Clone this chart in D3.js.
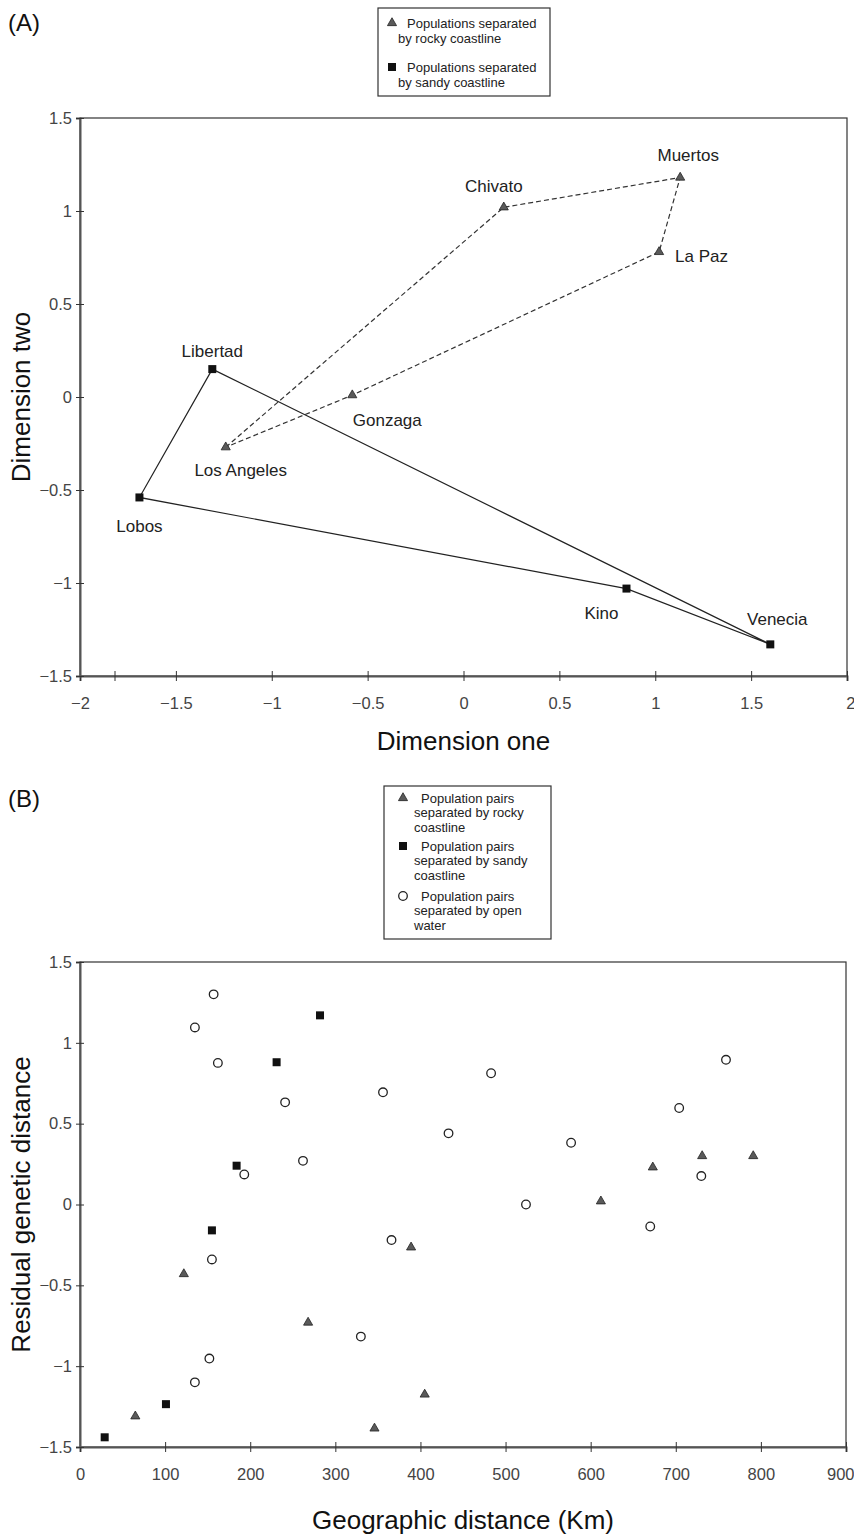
<!DOCTYPE html>
<html>
<head>
<meta charset="utf-8">
<script src="https://cdn.jsdelivr.net/npm/d3@7"></script>
<style>
  body { margin: 0; background: #fff; }
  svg { display: block; font-family: "Liberation Sans", Arial, sans-serif; }
</style>
</head>
<body>
<svg id="fig" width="854" height="1536"></svg>
<script>
// ---- Panel A: population coordinates on the two dimensions
const sites  = ["Muertos", "Chivato", "La Paz", "Gonzaga", "Los Angeles", "Libertad", "Lobos", "Kino", "Venecia"]
const dimOne = [1.13, 0.21, 1.02, -0.58, -1.24, -1.31, -1.69, 0.85, 1.60]
const dimTwo = [1.18, 1.02, 0.78, 0.01, -0.27, 0.15, -0.54, -1.03, -1.33]
const coast  = ["rocky", "rocky", "rocky", "rocky", "rocky", "sandy", "sandy", "sandy", "sandy"]

// order the outlines join the sites
const rockyLoop = ["Los Angeles", "Chivato", "Muertos", "La Paz", "Gonzaga", "Los Angeles"]
const sandyLoop = ["Libertad", "Lobos", "Kino", "Venecia", "Libertad"]

const dimOneTicks = [-2, -1.5, -1, -0.5, 0, 0.5, 1, 1.5, 2]
const dimTwoTicks = [-1.5, -1, -0.5, 0, 0.5, 1, 1.5]
const strayTicks = [-1.82] // unlabelled tick in the original

const legendA = [
  ["rocky", "Populations separated", "by rocky coastline"],
  ["sandy", "Populations separated", "by sandy coastline"]
]

// ---- Panel B: residual genetic distance vs geographic distance
const rockyKm  = [65, 122, 268, 346, 389, 405, 612, 673, 731, 791]
const rockyRes = [-1.31, -0.43, -0.73, -1.385, -0.265, -1.175, 0.02, 0.23, 0.30, 0.30]
const sandyKm  = [29, 101, 155, 184, 231, 282]
const sandyRes = [-1.44, -1.235, -0.16, 0.24, 0.88, 1.17]
const waterKm  = [135, 157, 162, 135, 152, 155, 193, 241, 262, 330, 356, 366, 433, 483, 524, 577, 670, 704, 730, 759]
const waterRes = [1.095, 1.30, 0.876, -1.10, -0.953, -0.34, 0.186, 0.632, 0.27, -0.817, 0.694, -0.22, 0.44, 0.812, 0.0, 0.382, -0.136, 0.597, 0.176, 0.895]

const kmTicks  = [0, 100, 200, 300, 400, 500, 600, 700, 800, 900]
const resTicks = [-1.5, -1, -0.5, 0, 0.5, 1, 1.5]

const legendB = [
  ["rocky", "Population pairs", "separated by rocky", "coastline"],
  ["sandy", "Population pairs", "separated by sandy", "coastline"],
  ["water", "Population pairs", "separated by open", "water"]
]

// label placement around each site [dx, dy, anchor]
const labelOffset = {
  "Muertos":     [8, -22, "middle"],
  "Chivato":     [-10, -21, "middle"],
  "La Paz":      [16, 4, "start"],
  "Gonzaga":     [35, 25, "middle"],
  "Los Angeles": [15, 23, "middle"],
  "Libertad":    [0, -18, "middle"],
  "Lobos":       [0, 29, "middle"],
  "Kino":        [-25, 24, "middle"],
  "Venecia":     [7, -25, "middle"]
}

const svg = d3.select("#fig")
const fmt = d3.format("")

// marker shapes shared by both panels
function marker(sel, kind) {
  if (kind === "rocky") {
    sel.append("path")
      .attr("d", d3.symbol(d3.symbolTriangle, 36)())
      .attr("fill", "#5a5a5a")
      .attr("stroke", "#222")
      .attr("stroke-width", 0.8)
  } else if (kind === "sandy") {
    sel.append("rect")
      .attr("x", -4).attr("y", -4)
      .attr("width", 8).attr("height", 8)
      .attr("fill", "#111")
  } else {
    sel.append("circle")
      .attr("r", 4.3)
      .attr("fill", "#fff")
      .attr("stroke", "#222")
      .attr("stroke-width", 1.3)
  }
}

// frame + crossing ticks + labels
function drawAxes(x, y, xTicks, yTicks, xTitle, yTitle, titleGap) {
  const [x0, x1] = x.range()
  const [y0, y1] = y.range()

  svg.append("rect")
    .attr("x", x0).attr("y", y1)
    .attr("width", x1 - x0).attr("height", y0 - y1)
    .attr("fill", "none")
    .attr("stroke", "#333")
    .attr("stroke-width", 1.2)

  const gx = svg.append("g")
    .attr("transform", `translate(0, ${y0})`)
    .call(d3.axisBottom(x).tickValues(xTicks).tickFormat(fmt).tickSize(5).tickPadding(16))
  gx.select(".domain").attr("stroke", "#555").attr("stroke-width", 2)
  gx.selectAll(".tick line").attr("y1", -5).attr("stroke", "#333")
  gx.selectAll(".tick text")
    .attr("font-size", 16.5)
    .attr("fill", "#444")
    .attr("font-family", "Liberation Sans, Arial, sans-serif")
  // keep the last label inside the page
  gx.selectAll(".tick text").filter((d, i, n) => i === n.length - 1 && x(d) > 835)
    .attr("text-anchor", "end")
    .attr("dx", 8)

  const gy = svg.append("g")
    .attr("transform", `translate(${x0}, 0)`)
    .call(d3.axisLeft(y).tickValues(yTicks).tickFormat(fmt).tickSize(4).tickPadding(4))
  gy.select(".domain").attr("stroke", "#555").attr("stroke-width", 2)
  gy.selectAll(".tick line").attr("x1", 4).attr("x2", -4).attr("stroke", "#333")
  gy.selectAll(".tick text")
    .attr("font-size", 16.5)
    .attr("fill", "#444")
    .attr("font-family", "Liberation Sans, Arial, sans-serif")

  svg.append("text")
    .attr("x", (x0 + x1) / 2)
    .attr("y", y0 + titleGap)
    .attr("text-anchor", "middle")
    .attr("font-size", 26)
    .attr("fill", "#111")
    .text(xTitle)

  svg.append("text")
    .attr("transform", `translate(30, ${(y0 + y1) / 2}) rotate(-90)`)
    .attr("text-anchor", "middle")
    .attr("font-size", 26)
    .attr("fill", "#111")
    .text(yTitle)
}

function drawLegend(entries, box, firstX, restX, markX, rowY, lineGap) {
  svg.append("rect")
    .attr("x", box[0]).attr("y", box[1])
    .attr("width", box[2]).attr("height", box[3])
    .attr("fill", "#fff")
    .attr("stroke", "#333")
    .attr("stroke-width", 1.2)

  entries.forEach((e, i) => {
    const g = svg.append("g")
    g.append("g")
      .attr("transform", `translate(${markX}, ${rowY[i]})`)
      .call(marker, e[0])
    e.slice(1).forEach((line, j) => {
      g.append("text")
        .attr("x", j === 0 ? firstX : restX)
        .attr("y", rowY[i] + j * lineGap)
        .attr("dy", "0.35em")
        .attr("font-size", 13)
        .attr("fill", "#222")
        .text(line)
    })
  })
}

// ================= Panel A =================
const xA = d3.scaleLinear().domain([-2, 2]).range([80, 847])
const yA = d3.scaleLinear().domain([-1.5, 1.5]).range([676, 118])

svg.append("text")
  .attr("x", 8).attr("y", 31)
  .attr("font-size", 24)
  .attr("fill", "#111")
  .text("(A)")

drawAxes(xA, yA, dimOneTicks, dimTwoTicks, "Dimension one", "Dimension two", 74)

// stray tick
svg.append("g")
  .attr("transform", `translate(0, ${yA.range()[0]})`)
  .call(d3.axisBottom(xA).tickValues(strayTicks).tickFormat("").tickSize(5))
  .call(g => g.select(".domain").remove())
  .call(g => g.selectAll(".tick line").attr("y1", -5).attr("stroke", "#333"))

const idx = name => sites.indexOf(name)
const sitePath = d3.line()
  .x(n => xA(dimOne[idx(n)]))
  .y(n => yA(dimTwo[idx(n)]))

svg.append("path")
  .attr("d", sitePath(rockyLoop))
  .attr("fill", "none")
  .attr("stroke", "#333")
  .attr("stroke-width", 1.2)
  .attr("stroke-dasharray", "5,3")

svg.append("path")
  .attr("d", sitePath(sandyLoop))
  .attr("fill", "none")
  .attr("stroke", "#222")
  .attr("stroke-width", 1.2)

const pts = svg.append("g")
  .selectAll("g")
  .data(sites)
  .join("g")
    .attr("transform", (d, i) => `translate(${xA(dimOne[i])}, ${yA(dimTwo[i])})`)

pts.each(function (d, i) { d3.select(this).call(marker, coast[i]) })

pts.append("text")
  .attr("x", d => labelOffset[d][0])
  .attr("y", d => labelOffset[d][1])
  .attr("dy", "0.35em")
  .attr("text-anchor", d => labelOffset[d][2])
  .attr("font-size", 17)
  .attr("fill", "#222")
  .text(d => d)

drawLegend(legendA, [378, 8, 172, 88], 407, 398, 392, [23, 67], 15)

// ================= Panel B =================
const xB = d3.scaleLinear().domain([0, 900]).range([80, 846])
const yB = d3.scaleLinear().domain([-1.5, 1.5]).range([1447, 962])

svg.append("text")
  .attr("x", 8).attr("y", 807)
  .attr("font-size", 24)
  .attr("fill", "#111")
  .text("(B)")

drawAxes(xB, yB, kmTicks, resTicks, "Geographic distance (Km)", "Residual genetic distance", 82)

const groups = [
  ["water", waterKm, waterRes],
  ["rocky", rockyKm, rockyRes],
  ["sandy", sandyKm, sandyRes]
]

groups.forEach(([kind, km, res]) => {
  svg.append("g")
    .selectAll("g")
    .data(km)
    .join("g")
      .attr("transform", (d, i) => `translate(${xB(d)}, ${yB(res[i])})`)
      .each(function () { d3.select(this).call(marker, kind) })
})

drawLegend(legendB, [384, 786, 167, 153], 421, 414, 403, [798, 846, 896], 14.5)
</script>
</body>
</html>
